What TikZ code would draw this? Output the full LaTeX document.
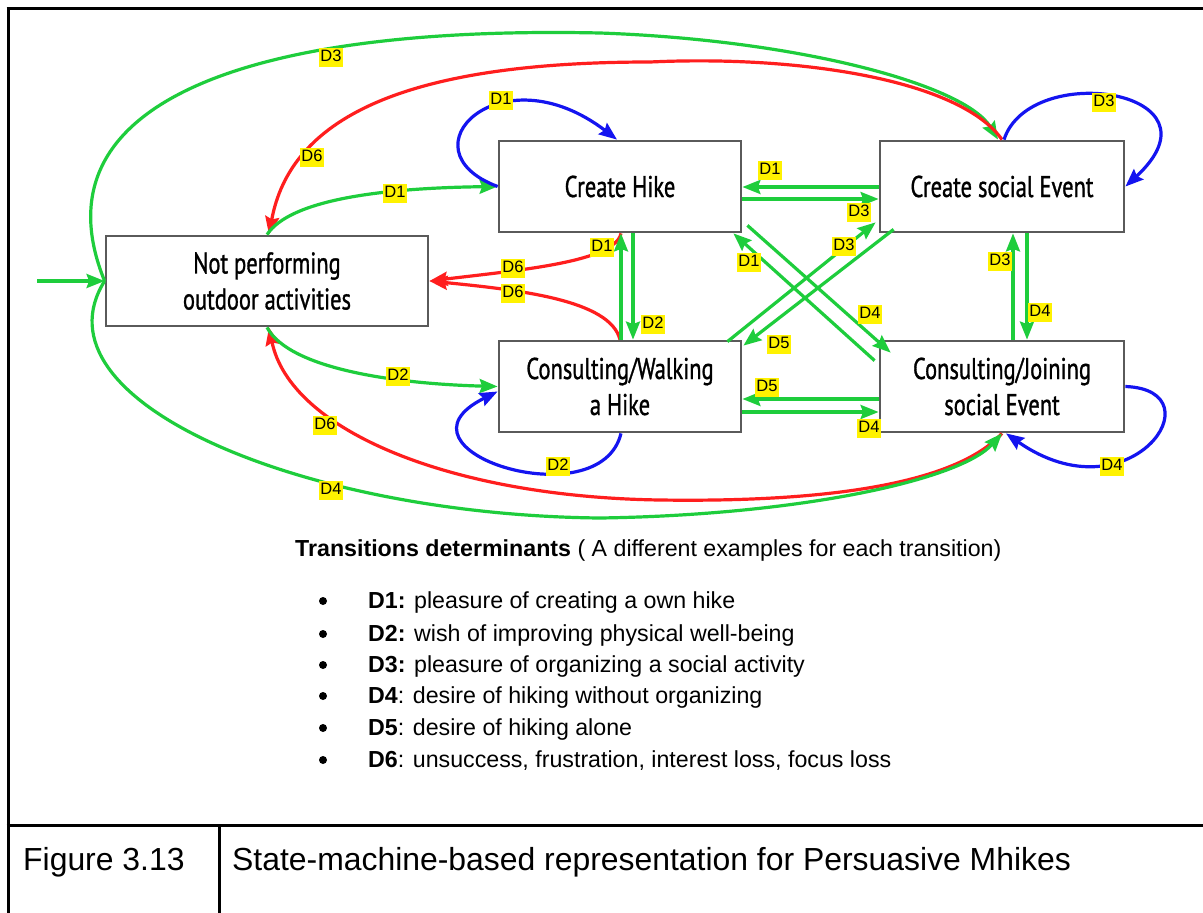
\documentclass[tikz,border=0pt]{standalone}
\usepackage{fontspec}
\setmainfont{Liberation Sans}
\newfontfamily\boxfont[FakeStretch=0.75,FakeBold=1]{PT Sans}
\usetikzlibrary{arrows.meta,calc}
\definecolor{eg}{RGB}{30,205,60}
\definecolor{er}{RGB}{255,30,30}
\definecolor{eb}{RGB}{20,20,240}
\definecolor{bx}{RGB}{90,90,90}
\begin{document}
\begin{tikzpicture}[x=1pt,y=-1pt,
  state/.style={draw=bx, line width=2.8pt, fill=white, align=center, inner sep=0pt,
    font=\boxfont\fontsize{30}{36}\selectfont},
  tr/.style={line width=3.2pt, -{Stealth[length=18pt,width=14pt,inset=2.5pt]}},
  gtr/.style={tr, color=eg},
  rtr/.style={tr, color=er},
  btr/.style={tr, color=eb},
  lbl/.style={fill=yellow, inner xsep=1.2pt, inner ysep=1pt, text height=12.5pt, text depth=4.5pt,
    font=\fontsize{16.5}{17}\selectfont},
  txt/.style={anchor=base west, inner sep=0pt, font=\fontsize{23.2}{23}\selectfont},
  captxt/.style={anchor=base west, inner sep=0pt, font=\fontsize{31.9}{32}\selectfont},
  bullet/.style={circle, fill=black, inner sep=0pt, minimum size=8pt},
  frame/.style={line width=3pt, black}
]
\useasboundingbox (0,0) rectangle (1203,913);
\fill[white] (0,0) rectangle (1203,913);
% frame
\draw[frame] (6.5,8) -- (1203,8);
\draw[frame] (8,8) -- (8,913);
\draw[frame] (6.5,825) -- (1203,825);
\draw[frame] (219,825) -- (219,913);

% states
\node[state, minimum width=322pt, minimum height=90pt] (N) at (267,281) {Not performing\\outdoor activities};
\node[state, minimum width=242pt, minimum height=91pt] (C) at (620,186.5) {Create Hike};
\node[state, minimum width=244pt, minimum height=91pt] (S) at (1002,186.5) {Create social Event};
\node[state, minimum width=242pt, minimum height=91pt] (W) at (620,386.5) {Consulting/Walking\\a Hike};
\node[state, minimum width=244pt, minimum height=91pt] (J) at (1002,386.5) {Consulting/Joining\\social Event};

% initial
\coordinate (in) at (37,281);
\draw[gtr] (in) -- (N.west);
% long arcs
\draw[gtr] (N.west) .. controls (35,110) and (230,25) .. (600,33) .. controls (800,40) and (965,85) .. ([xshift=-4pt]S.north);
\draw[rtr] (S.north) .. controls (960,80) and (800,55) .. (650,62) .. controls (400,62) and (290,120) .. ([xshift=2pt]N.north);
\draw[rtr] (J.south) .. controls (950,490) and (800,502) .. (660,500) .. controls (450,497) and (290,430) .. ([xshift=2pt]N.south);
\draw[gtr] (N.west) .. controls (30,400) and (300,515) .. (600,518) .. controls (800,515) and (960,480) .. (J.south);
% N <-> C, W
\draw[gtr] (N.north) .. controls (290,200) and (380,188) .. (C.west);
\draw[gtr] (N.south) .. controls (290,370) and (400,384) .. (W.west);
\draw[rtr] ([xshift=1pt]C.south) .. controls (615,262) and (520,270) .. (N.east);
\draw[rtr] (W.north) .. controls (610,300) and (520,290) .. (N.east);
% self loops
\draw[btr] (C.west) .. controls (400,150) and (500,50) .. ([xshift=-3pt]C.north);
\draw[btr] ([xshift=2pt]S.north) .. controls (1030,60) and (1230,90) .. (S.east);
\draw[btr] ([xshift=1pt]W.south) .. controls (600,520) and (380,450) .. ([yshift=-5pt]W.west);
\draw[btr] (J.east) .. controls (1220,390) and (1130,520) .. ([xshift=4pt]J.south);
% horizontals
\draw[gtr] ([yshift=-0.5pt]S.west) -- ([yshift=-0.5pt]C.east);
\draw[gtr] ([yshift=-12.5pt]C.east) -- ([yshift=-12.5pt]S.west);
\draw[gtr] ([yshift=-12.5pt]J.west) -- ([yshift=-12.5pt]W.east);
\draw[gtr] ([yshift=-25.5pt]W.east) -- ([yshift=-25.5pt]J.west);
% verticals
\draw[gtr] ([xshift=13pt]C.south) -- ([xshift=13pt]W.north);
\draw[gtr] ([xshift=1pt]W.north) -- ([xshift=1pt]C.south);
\draw[gtr] ([xshift=11pt]J.north) -- ([xshift=11pt]S.south);
\draw[gtr] ([xshift=25pt]S.south) -- ([xshift=25pt]J.north);
% diagonals
\draw[gtr] ($(C.south east)+(5,-8)$) -- ($(J.north west)+(12,13)$);
\draw[gtr] ($(J.north west)+(-4,21)$) -- ($(C.south east)+(-9,0)$);
\draw[gtr] ($(W.north east)+(-15,2)$) -- ($(S.south west)+(-3,-11)$);
\draw[gtr] ($(S.south west)+(15,-4)$) -- ($(W.north east)+(1,6)$);

% labels
\node[lbl] (l01) at (331,57) {D3};
\node[lbl] (l02) at (312,157) {D6};
\node[lbl] (l03) at (501,100) {D1};
\node[lbl] (l04) at (395,193) {D1};
\node[lbl] (l05) at (770,170) {D1};
\node[lbl] (l06) at (1104,102) {D3};
\node[lbl] (l07) at (859,212) {D3};
\node[lbl] (l08) at (602,247) {D1};
\node[lbl] (l09) at (513,268) {D6};
\node[lbl] (l10) at (513,293) {D6};
\node[lbl] (l11) at (844,246) {D3};
\node[lbl] (l12) at (749,262) {D1};
\node[lbl] (l13) at (1000,261) {D3};
\node[lbl] (l14) at (653,324) {D2};
\node[lbl] (l15) at (870,314) {D4};
\node[lbl] (l16) at (1040,312) {D4};
\node[lbl] (l17) at (779,344) {D5};
\node[lbl] (l18) at (398,376) {D2};
\node[lbl] (l19) at (767,387) {D5};
\node[lbl] (l20) at (869,428) {D4};
\node[lbl] (l21) at (325,425) {D6};
\node[lbl] (l22) at (558,466) {D2};
\node[lbl] (l23) at (1112,466) {D4};
\node[lbl] (l24) at (331,490) {D4};

% legend
\node[txt] (title) at (295,556) {\textbf{Transitions determinants} ( A different examples for each transition)};
\node[bullet] (b1) at (323,601) {};
\node[bullet] (b2) at (323,634) {};
\node[bullet] (b3) at (323,665) {};
\node[bullet] (b4) at (323,696) {};
\node[bullet] (b5) at (323,728) {};
\node[bullet] (b6) at (323,760) {};
\node[txt] (i1) at (368,608) {\textbf{D1:} pleasure of creating a own hike};
\node[txt] (i2) at (368,641) {\textbf{D2:} wish of improving physical well-being};
\node[txt] (i3) at (368,672) {\textbf{D3:} pleasure of organizing a social activity};
\node[txt] (i4) at (368,703) {\textbf{D4}: desire of hiking without organizing};
\node[txt] (i5) at (368,735) {\textbf{D5}: desire of hiking alone};
\node[txt] (i6) at (368,767) {\textbf{D6}: unsuccess, frustration, interest loss, focus loss};

% caption
\node[captxt] (fig) at (23,870) {Figure 3.13};
\node[captxt] (cap) at (232,870) {State-machine-based representation for Persuasive Mhikes};
\end{tikzpicture}
\end{document}
